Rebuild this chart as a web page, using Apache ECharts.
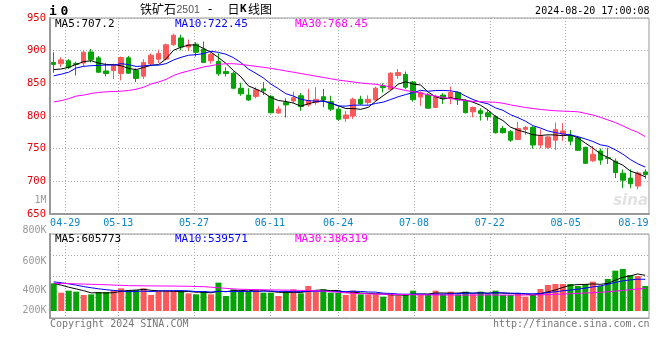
<!DOCTYPE html>
<html><head><meta charset="utf-8">
<script src="https://cdn.jsdelivr.net/npm/echarts@6/dist/echarts.min.js"></script>
<style>html,body{margin:0;padding:0;background:#fff}#c{width:660px;height:360px}</style>
</head><body><div id="c"></div>
<script>
// ---------- data ----------
const dates = ['04-25','04-26','04-29','04-30','05-06','05-07','05-08','05-09','05-10','05-13',
'05-14','05-15','05-16','05-17','05-20','05-21','05-22','05-23','05-24','05-27',
'05-28','05-29','05-30','05-31','06-03','06-04','06-05','06-06','06-07','06-11',
'06-12','06-13','06-14','06-17','06-18','06-19','06-20','06-21','06-24','06-25',
'06-26','06-27','06-28','07-01','07-02','07-03','07-04','07-05','07-08','07-09',
'07-10','07-11','07-12','07-15','07-16','07-17','07-18','07-19','07-22','07-23',
'07-24','07-25','07-26','07-29','07-30','07-31','08-01','08-02','08-05','08-06',
'08-07','08-08','08-09','08-12','08-13','08-14','08-15','08-16','08-19','08-20'];
const opens = [882,880,884.5,880.5,881,898,889,869,869.5,865,
889,870,861,880,887,887,909,919.5,905.5,910,
902.5,884.5,883.5,868,865.5,842.5,832,830,841.5,830,
804.5,820.5,823,831,817,820.5,829.5,822,810.5,796,
800,825.5,820.5,824.5,846,841,862,863.5,852,829,
832,813,832,828,836,823,806.5,808,805,799,
781,776,764,779.5,782.5,755.5,752,763,772.5,770.5,
766.5,752,731.5,746.5,736.2,730.8,712.5,705,692.8,714.4];
const closes = [879,886,874.5,879,897.5,886,867,865,877,889.5,
865.5,857.5,882,893,895.5,909,923.5,905.5,909,897.5,
882,894,864.5,865,842.5,834,824.5,840,838.5,805,
810.5,817,828,814.5,823.5,825.5,824.5,810.5,795,801.5,
825.5,818.5,825.5,842.5,843.5,865.5,866.5,844,825,836,
812,829.5,827,836,824.5,805,813,804,799,774.5,
774.5,763,781,782.5,755.5,769,768,779.5,777,761.5,
747.5,727.5,741.5,732.5,734.8,713.3,701.8,696.4,712.8,710.3];
const lows = [866,875,872,862,875,882,866,860.5,856.5,854.5,
865,852,856.5,877,881,885,907.5,900.5,899,891,
881,880,861.5,860.5,841,831,823,827,832,804,
803.5,797.5,819.5,808,814.5,817,813.5,807.5,793,791,
795.5,817,817,823.5,836,839,857,841,822,815.5,
811,812,818.5,818,817,804,798,793,793,773,
773,760.5,763,771,750,750.5,750,748,762,755,
746.5,726.5,729.5,725.5,726.5,705,689.5,689.5,687.7,704];
const highs = [897.5,890,887,883,900.5,902.5,892,881,880,891,
892,873,887,896,901.5,911,926,924.5,917,913,
914,897,896,874.5,868,851,842.5,844,852,832,
815,827,837.5,835,841.5,844,841.5,831,814.5,807.5,
828,831,831.5,845,850,867,872,868,853.5,837.5,
835,832.5,835,845,837.5,825.5,814.5,812,809,801.5,
784.5,778.5,791,785,784.5,779.5,770,790,789,778.5,
769,753,754,750.3,751.5,734.9,718,718.4,715.4,718.4];
// volume, thousands of lots
const volumesK = [470,312,346,329,272,283,323,323,357,385,
357,357,385,272,340,340,340,340,300,283,
340,283,482,255,368,340,340,368,312,312,
255,340,368,300,425,329,368,312,312,272,
346,283,283,283,244,283,261,283,346,272,
283,346,283,329,283,329,283,329,283,346,
272,272,300,244,272,374,442,459,459,459,
425,459,499,425,544,686,714,612,595,425];
// moving-average values read from the picture where the history is not shown
const ma5Head = [871,872,874.5,879];
const ma10Head = [861.5,864,867,873.5,876,877,877.5,878,878];
const ma30 = [821.5,823.5,826.5,830.5,832,834.5,836,837,837.5,838,
839,841,844,849,852,856,862,866,869,872,
875,877,879,880,880,879,877.5,876,874.5,873,
871,869,867,865,863,861,859,857,855,853.5,
852,850.5,849.5,848.5,846.5,844.5,841.5,839,837,835,
832.5,830.5,828.5,826.5,825,823.5,822.5,822,821.5,821,
819.5,817,815,813,811.5,810,809,808,807.5,807,
806.5,804,801.5,798,794,790,785,779.5,775,768.45];
const volMa5Head = [471,440,405,375];
const volMa10Head = [495,480,462,440,415,395,377,362,350];
const volMa30 = [471,468,465,462,458,454,450,446,441,436,
431,430,428,427,426,425,424,422,420,417,
414,405,395,385,376,369,366,364,361,359,
357,355,353,350,348,346,338,328,318,308,
300,296,292,288,285,283,281,279,277,275,
274,273,272,272,271,271,272,272,273,272,
271,271,272,272,273,275,278,282,288,294,
300,306,312,318,326,338,350,362,374,386.3];
const labelDates = ['04-29','05-13','05-27','06-11','06-24','07-08','07-22','08-05','08-19'];
const gridDates = ['04-29','05-13','05-27','06-11','06-24','07-08','07-22','08-05'];
const priceLegend = ['MA5:707.2','MA10:722.45','MA30:768.45'];
const volLegend = ['MA5:605773','MA10:539571','MA30:386319'];
const volTickLabels = ['800K','600K','400K','200K'];
const mainTickLabel = '1M';
const titleParts = ['铁矿石','2501','-','日','K','线图'];
const stampText = '2024-08-20 17:00:08';
const footLeft = 'Copyright 2024 SINA.COM';
const footRight = 'http://finance.sina.com.cn';

// ---------- helpers ----------
function movingAvg(arr, n, head){
  return arr.map((v,i)=>{
    if(i < n-1) return head[i];
    let s=0; for(let k=i-n+1;k<=i;k++) s+=arr[k];
    return +(s/n).toFixed(2);
  });
}
const ma5 = movingAvg(closes,5,ma5Head);
const ma10 = movingAvg(closes,10,ma10Head);
const vma5 = movingAvg(volumesK,5,volMa5Head);
const vma10 = movingAvg(volumesK,10,volMa10Head);
const candles = dates.map((d,i)=>[opens[i],closes[i],lows[i],highs[i]]);
const RED='#fc5a5a', GREEN='#06a306';
const volBars = dates.map((d,i)=>({value:volumesK[i], itemStyle:{color: closes[i]>=opens[i]?RED:GREEN}}));

const MONO='"DejaVu Sans Mono", "Liberation Mono", monospace';
const GRIDC='#aaa';
const dotted = {show:true, lineStyle:{color:GRIDC, type:[1,2], width:1}};
const gridIdx = new Set(gridDates);
const labIdx = new Set(labelDates);

function txt(text,x,y,fill,font,align){
  return {type:'text', silent:true, z:100, style:{text, x, y, fill, font, textAlign:align||'left', textVerticalAlign:'middle'}};
}
const graphic = [
  txt('i',53,11.5,'#000','bold 13px '+MONO,'center'),
  txt('0',64.5,11.5,'#000','bold 13px '+MONO,'center'),
  txt(titleParts[0],140,9.5,'#000','12px "Noto Sans CJK SC"'),
  txt(titleParts[1],176.5,10,'#555','10.5px "Liberation Sans"'),
  txt(titleParts[2],210,9.5,'#000','12px '+MONO,'center'),
  txt(titleParts[3],227.5,9.5,'#000','12px "Noto Sans CJK SC"'),
  txt(titleParts[4],240,9.5,'#000','bold 11px '+MONO),
  txt(titleParts[5],248,9.5,'#000','12px "Noto Sans CJK SC"'),
  txt(stampText,649.5,11.5,'#000','10px '+MONO,'right'),
  txt(priceLegend[0],55,24.5,'#000','11px '+MONO),
  txt(priceLegend[1],175,24.5,'#0000ff','11px '+MONO),
  txt(priceLegend[2],295,24.5,'#ff00ff','11px '+MONO),
  txt(volLegend[0],55,238.8,'#000','11px '+MONO),
  txt(volLegend[1],175,238.8,'#0000ff','11px '+MONO),
  txt(volLegend[2],295,238.8,'#ff00ff','11px '+MONO),
  txt(mainTickLabel,46.5,200.5,'#999','10px '+MONO,'right'),
  txt(footLeft,50,324,'#777','10px '+MONO),
  txt(footRight,649.5,324,'#777','10px '+MONO,'right'),
  txt('sina',648,201,'#e2e2e2','italic bold 15px "DejaVu Sans"','right')
];
const volLabelY=[230.5,261,290.5,310.5];
volTickLabels.forEach((t,i)=>graphic.push(txt(t,46.5,volLabelY[i],'#999','10px '+MONO,'right')));

const chart = echarts.init(document.getElementById('c'), null, {renderer:'canvas'});
chart.setOption({
  animation:false,
  backgroundColor:'#fff',
  grid:[
    {left:50, width:599, top:18, height:196, show:true, borderColor:'#999', borderWidth:1, backgroundColor:'transparent', outerBoundsMode:'none', containLabel:false},
    {left:50, width:599, top:234, height:84, show:true, borderColor:'#999', borderWidth:1, backgroundColor:'transparent', outerBoundsMode:'none', containLabel:false},
    {left:50, width:599, top:214, height:1, show:false, outerBoundsMode:'none', containLabel:false}
  ],
  xAxis:[
    {type:'category', gridIndex:0, data:dates, boundaryGap:true, axisLine:{show:false}, axisTick:{show:false}, axisLabel:{show:false}, splitLine:{show:false}},
    {type:'category', gridIndex:0, data:dates, boundaryGap:false, position:'bottom',
      axisLine:{show:true, lineStyle:{color:'#999', width:2}}, axisTick:{show:false}, axisLabel:{show:false},
      splitLine:Object.assign({interval:(i,v)=>gridIdx.has(v)}, dotted)},
    {type:'category', gridIndex:1, data:dates, boundaryGap:true, axisLine:{show:false}, axisTick:{show:false}, axisLabel:{show:false}, splitLine:{show:false}},
    {type:'category', gridIndex:1, data:dates, boundaryGap:false, axisLine:{show:true, lineStyle:{color:'#999', width:1}}, axisTick:{show:false}, axisLabel:{show:false},
      splitLine:Object.assign({interval:(i,v)=>gridIdx.has(v)}, dotted)},
    {type:'category', gridIndex:2, data:dates, boundaryGap:false, position:'bottom',
      axisLine:{show:false}, axisTick:{show:false}, splitLine:{show:false},
      axisLabel:{show:true, margin:3, color:'#0a84c8', fontSize:10, fontFamily:MONO,
        interval:(i,v)=>labIdx.has(v),
        formatter:(v)=> v==='08-19' ? '{s|'+v+'}' : v,
        rich:{s:{color:'#0a84c8', fontSize:10, fontFamily:MONO, padding:[0,16,0,0]}}}}
  ],
  yAxis:[
    {type:'value', gridIndex:0, min:650, max:950, interval:50, axisLine:{show:true, lineStyle:{color:'#999', width:2}}, axisTick:{show:false},
      axisLabel:{color:'#e60000', fontSize:10.5, fontFamily:MONO, margin:4}, splitLine:dotted},
    {type:'value', gridIndex:1, min:-119, max:1309, axisLine:{show:true, lineStyle:{color:'#999', width:2}}, axisTick:{show:false}, axisLabel:{show:false}, splitLine:{show:false}},
    {type:'value', gridIndex:1, min:0, max:4, interval:1, axisLine:{show:false}, axisTick:{show:false}, axisLabel:{show:false}, splitLine:dotted},
    {type:'value', gridIndex:2, show:false, min:0, max:1}
  ],
  series:[
    {type:'candlestick', xAxisIndex:0, yAxisIndex:0, data:candles, barWidth:5, silent:true,
      itemStyle:{color:RED, color0:GREEN, borderColor:RED, borderColor0:GREEN, borderWidth:1}},
    {type:'line', xAxisIndex:0, yAxisIndex:0, data:ma5, symbol:'none', silent:true, lineStyle:{color:'#000', width:1}, z:5},
    {type:'line', xAxisIndex:0, yAxisIndex:0, data:ma10, symbol:'none', silent:true, lineStyle:{color:'#0000ff', width:1}, z:5},
    {type:'line', xAxisIndex:0, yAxisIndex:0, data:ma30, symbol:'none', silent:true, lineStyle:{color:'#ff00ff', width:1}, z:5},
    {type:'bar', xAxisIndex:2, yAxisIndex:1, data:volBars, barWidth:6, silent:true},
    {type:'line', xAxisIndex:2, yAxisIndex:1, data:vma5, symbol:'none', silent:true, lineStyle:{color:'#000', width:1}, z:5},
    {type:'line', xAxisIndex:2, yAxisIndex:1, data:vma10, symbol:'none', silent:true, lineStyle:{color:'#0000ff', width:1}, z:5},
    {type:'line', xAxisIndex:2, yAxisIndex:1, data:volMa30, symbol:'none', silent:true, lineStyle:{color:'#ff00ff', width:1}, z:5}
  ],
  graphic: graphic
});
</script></body></html>
